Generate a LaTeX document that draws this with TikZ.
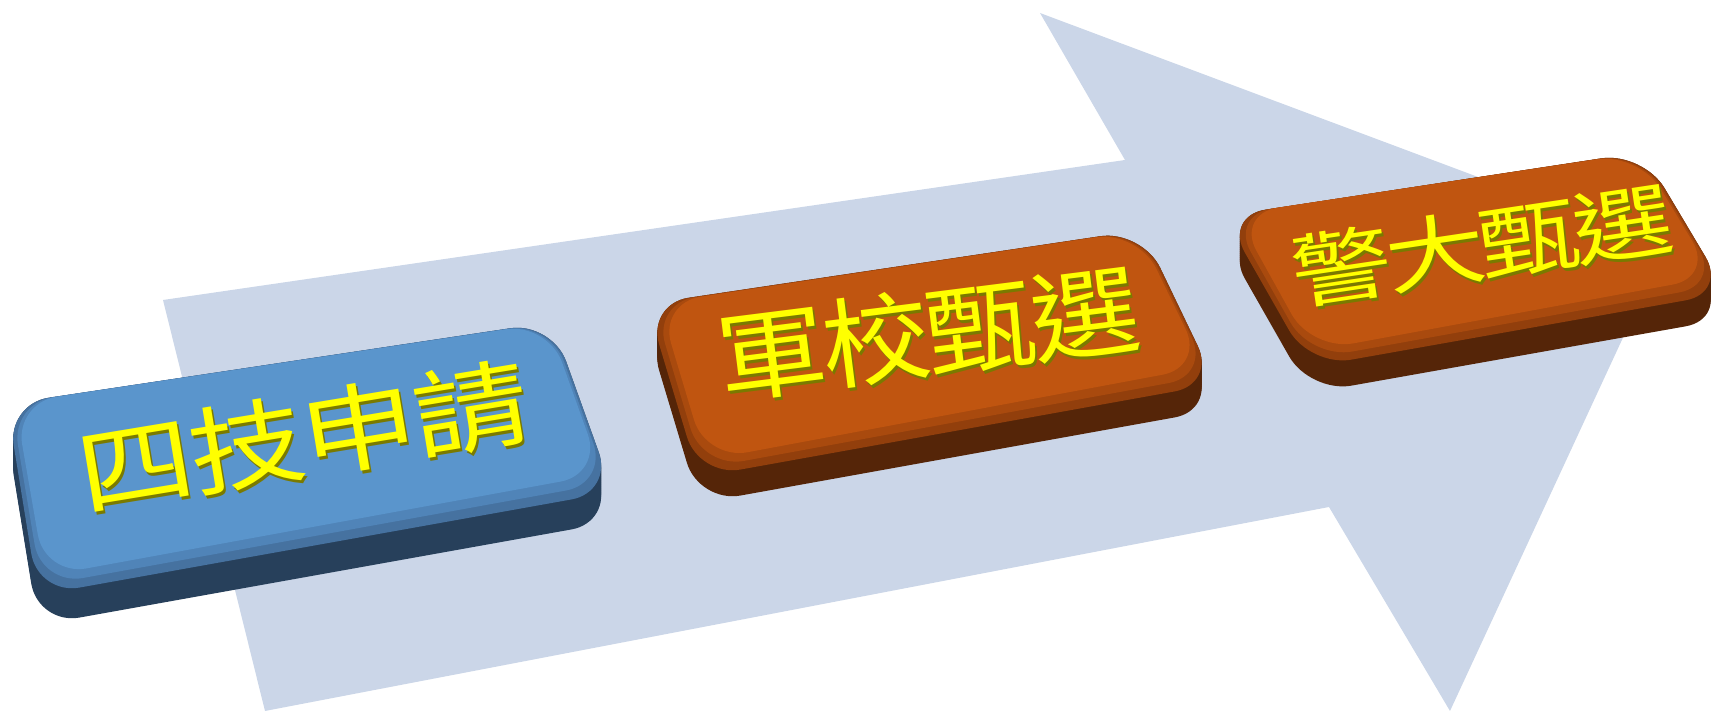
\documentclass[tikz,border=0pt]{standalone}
\usepackage{fontspec}
\newfontfamily\cjk{Noto Sans CJK TC}
\definecolor{arrowc}{HTML}{CBD6E8}
\definecolor{bluetop}{HTML}{5A95CC}
\definecolor{bluemid}{HTML}{5084B8}
\definecolor{bluebevel}{HTML}{4672A0}
\definecolor{blueside}{HTML}{27405B}
\definecolor{orgtop}{HTML}{C05510}
\definecolor{orgmid}{HTML}{A94A0E}
\definecolor{orgbevel}{HTML}{923F0C}
\definecolor{orgside}{HTML}{552508}
\definecolor{txtyellow}{HTML}{FFFF00}
\definecolor{txtshadow}{HTML}{7A7A00}
\tikzset{
  boxround/.style={rounded corners=0.42cm},
  lbl/.style={text=txtyellow, inner sep=0pt},
  lblshadow/.style={text=txtshadow, inner sep=0pt}
}
\newcommand{\kk}[1]{\kern#1}
\begin{document}
\begin{tikzpicture}[x=0.01cm,y=-0.01cm]
\useasboundingbox (0,0) rectangle (1729,713);
% background arrow
\fill[arrowc] (163,300) -- (1125,160) -- (1040,13) -- (1665,247) -- (1450,711) -- (1329,507) -- (265,711) -- cycle;

% box 1 (blue)
\foreach \d in {0,2,...,30}
  \fill[blueside, boxround, shift={(0,\d)}] (7,404) -- (552,322) -- (613,492) -- (38,595) -- cycle;
\fill[bluebevel, boxround] (7,404) -- (552,322) -- (613,492) -- (38,595) -- cycle;
\fill[bluemid, boxround] (11,403.5) -- (550,322.5) -- (607.5,483) -- (41.5,585.5) -- cycle;
\fill[bluetop, boxround] (15,403) -- (548,323) -- (602,474) -- (45,576) -- cycle;

% box 2 (orange)
\foreach \d in {0,2,...,26}
  \fill[orgside, boxround, shift={(0,\d)}] (647,304) -- (1142,230) -- (1216,384) -- (699,477) -- cycle;
\fill[orgbevel, boxround] (647,304) -- (1142,230) -- (1216,384) -- (699,477) -- cycle;
\fill[orgmid, boxround] (653,303.5) -- (1140,230.5) -- (1210,375.5) -- (702.5,468.5) -- cycle;
\fill[orgtop, boxround] (659,303) -- (1138,231) -- (1204,367) -- (706,460) -- cycle;

% box 3 (orange)
\foreach \d in {0,2,...,26}
  \fill[orgside, boxround, shift={(0,\d)}] (1224,216) -- (1643,152) -- (1727,293) -- (1310,367) -- cycle;
\fill[orgbevel, boxround] (1224,216) -- (1643,152) -- (1727,293) -- (1310,367) -- cycle;
\fill[orgmid, boxround] (1230,215) -- (1641,152.5) -- (1720.5,285) -- (1311,359) -- cycle;
\fill[orgtop, boxround] (1236,214) -- (1639,153) -- (1714,277) -- (1312,351) -- cycle;

% labels
\node[lblshadow, font=\cjk\fontsize{33pt}{35pt}\selectfont, rotate=9.4, yscale=0.82] (t1s) at (305,440) {四\kk{-0.8pt}技\kk{-0.8pt}申\kk{-0.8pt}請};
\node[lbl, font=\cjk\fontsize{33pt}{35pt}\selectfont, rotate=9.4, yscale=0.82] (t1) at (303,437) {四\kk{-0.8pt}技\kk{-0.8pt}申\kk{-0.8pt}請};

\node[lblshadow, font=\cjk\fontsize{31pt}{33pt}\selectfont, rotate=7.2, yscale=0.9] (t2s) at (930,336) {軍\kk{-1.1pt}校\kk{-1.1pt}甄\kk{-1.1pt}選};
\node[lbl, font=\cjk\fontsize{31pt}{33pt}\selectfont, rotate=7.2, yscale=0.9] (t2) at (928,333) {軍\kk{-1.1pt}校\kk{-1.1pt}甄\kk{-1.1pt}選};

\node[lblshadow, font=\cjk\fontsize{28.5pt}{30pt}\selectfont, rotate=8.5, yscale=0.8] (t3s) at (1484,248) {警\kk{-1.5pt}大\kk{-1.5pt}甄\kk{-1.5pt}選};
\node[lbl, font=\cjk\fontsize{28.5pt}{30pt}\selectfont, rotate=8.5, yscale=0.8] (t3) at (1482,245) {警\kk{-1.5pt}大\kk{-1.5pt}甄\kk{-1.5pt}選};
\end{tikzpicture}
\end{document}
